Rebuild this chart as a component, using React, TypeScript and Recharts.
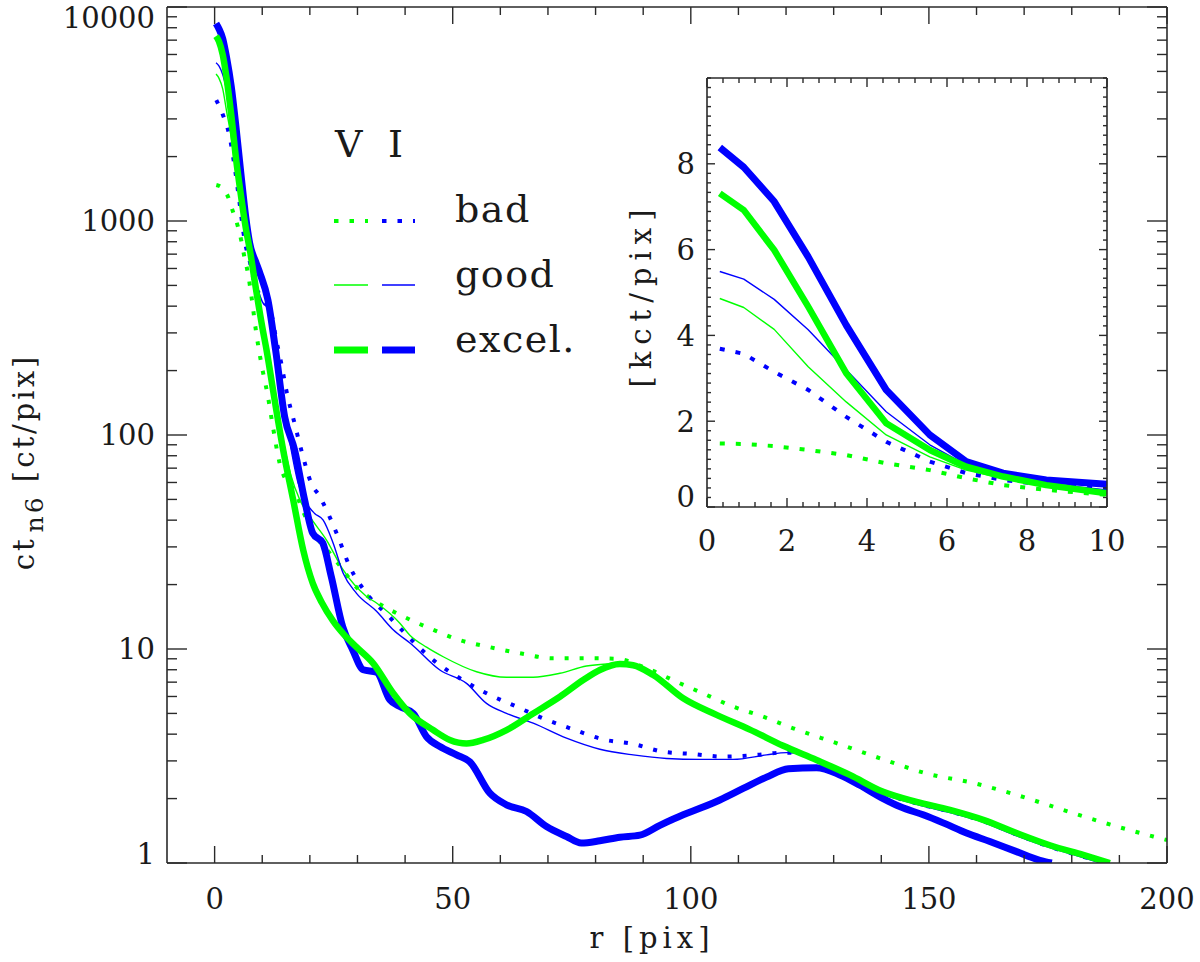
import React from 'react';
import { LineChart, Line, XAxis, YAxis } from 'recharts';

const FONT = "'DejaVu Serif', serif";
const INK = '#1a1a1a';
const AXIS = '#2a2a2a';
const GREEN = '#00ff00';
const BLUE = '#0000ff';

// ---------------- main chart (log scale) ----------------
const V_BAD_R = [0.35, 1.7, 2.8, 3.85, 4.9, 5.6, 6.3, 7.0, 7.7, 8.75, 9.8, 11.2, 12.25, 13.65, 15.4, 16.8, 17.9, 20, 24.2, 27, 29, 34, 39.6, 45.9, 51.5, 57.8, 64.1, 71.1, 78.1, 84.4, 90.7, 97, 103.3, 108.9, 115.2, 121.5, 130.6, 140.4, 149.5, 159.5, 168.4, 178.2, 187.3, 197.1, 200];
const V_BAD = [1473, 1420, 1300, 1105, 940, 810, 670, 570, 450, 299, 216, 151, 109, 74, 59.5, 55, 48, 37.3, 28, 23.4, 20.3, 16.6, 14.2, 12.3, 11, 10.2, 9.55, 9.05, 9.05, 9.0, 8.13, 7.03, 6.1, 5.38, 4.83, 4.26, 3.63, 3.05, 2.62, 2.36, 2.08, 1.77, 1.53, 1.33, 1.28];

const I_BAD_R = [0.35, 1.75, 3.15, 4.2, 5.25, 6.3, 7.5, 8.5, 10, 11.9, 12.95, 14, 15.05, 16.8, 18.2, 20.3, 22.1, 23.5, 25.9, 28.4, 31.9, 36.6, 41.4, 45.9, 51.5, 57.1, 63.4, 69, 75.3, 81.6, 87.9, 94.2, 100.5, 106.8, 113.8, 119.4, 122.5, 126.4, 133.4, 140.4, 147.4, 154.4, 161.4, 168.4, 175.4, 182.4, 187];
const I_BAD = [3675, 3127, 2477, 1795, 1210, 815, 630, 500, 440, 370, 278, 216, 162, 113, 85, 59.5, 51.5, 44.6, 33.5, 24.2, 18.2, 14.2, 11, 8.88, 7.3, 6.21, 5.38, 4.74, 4.21, 3.78, 3.6, 3.31, 3.23, 3.14, 3.2, 3.28, 3.25, 3.0, 2.55, 2.12, 1.9, 1.74, 1.57, 1.36, 1.19, 1.07, 1.0];

const V_GOOD_R = [0.3, 0.9, 1.7, 2.5, 3.5, 4.5, 5.5, 6.5, 7.5, 8.5, 10, 12, 14, 16, 17.9, 20, 23.5, 27, 31.9, 34, 38.9, 41, 44.5, 48, 55, 61.3, 66.9, 72.5, 78.1, 82.3, 85.1, 87.9, 92.1, 98.4, 105.4, 112.4, 119.4, 126.4, 133.4, 140.4, 147.4, 154.4, 161.4, 168.4, 175.4, 182.4, 188];
const V_GOOD = [4860, 4650, 4140, 3270, 2450, 1680, 1170, 860, 670, 470, 320, 190, 105, 65, 49.7, 41.5, 32.3, 23.4, 17.6, 16.4, 13.2, 11.6, 10.2, 9.2, 7.83, 7.38, 7.38, 7.7, 8.33, 8.51, 8.55, 8.4, 7.56, 5.88, 4.92, 4.2, 3.53, 3.03, 2.58, 2.15, 1.93, 1.77, 1.59, 1.38, 1.21, 1.09, 1.0];

const I_GOOD_R = [0.3, 0.9, 1.7, 2.5, 3.5, 4.5, 5.5, 6.5, 7.5, 8.5, 10, 11.5, 13, 15.7, 17.5, 19.3, 21, 22.8, 24.9, 27, 29.8, 34, 37.5, 41.4, 47.3, 52.9, 57.1, 61.3, 66.9, 73.9, 80.9, 87.9, 94.9, 101.9, 108.9, 115.9, 120.1, 123.6, 128.8, 133.4, 140.4, 147.4, 154.4, 161.4, 168.4, 175.4, 182.4, 186];
const I_GOOD = [5490, 5310, 4840, 4130, 3200, 2220, 1450, 980, 750, 550, 420, 384, 230, 95, 60, 48, 43, 40, 31.2, 22.6, 18.2, 15, 12.3, 10.5, 7.98, 6.91, 5.57, 5.0, 4.5, 3.83, 3.4, 3.2, 3.08, 3.05, 3.05, 3.2, 3.28, 3.2, 2.85, 2.52, 2.1, 1.88, 1.72, 1.55, 1.34, 1.18, 1.06, 1.0];

const V_EXC_R = [0.3, 0.9, 1.7, 2.5, 3.5, 4.5, 5.5, 6.5, 7.5, 8.5, 10, 10.9, 12.6, 14.4, 16.5, 18.6, 20.6, 22.5, 24.9, 27, 29.8, 33.3, 37.5, 41, 45.9, 49.4, 52.9, 56.4, 61.3, 66.9, 72.5, 77.4, 80.9, 85.1, 87.9, 92.1, 98.4, 105.4, 112.4, 119.4, 126.4, 133.4, 140.4, 147.4, 154.4, 161.4, 168.4, 175.4, 182.4, 188];
const V_EXC = [7310, 6920, 5990, 4670, 3120, 1950, 1330, 940, 710, 510, 320, 250, 146, 85, 49.7, 29, 20.3, 16.5, 13.5, 11.8, 10.2, 8.57, 6.21, 5.0, 4.18, 3.76, 3.62, 3.76, 4.18, 5.0, 5.98, 7.16, 7.98, 8.51, 8.4, 7.56, 5.88, 4.92, 4.2, 3.53, 3.03, 2.58, 2.15, 1.93, 1.77, 1.59, 1.38, 1.21, 1.09, 1.0];

const I_EXC_R = [0.3, 0.9, 1.7, 2.5, 3.5, 4.5, 5.5, 6.5, 7.35, 8.75, 9.5, 11.2, 12.8, 14.7, 16.8, 18.9, 20.6, 22.7, 24.5, 26.9, 29, 31.2, 34, 36.8, 38.9, 41.7, 44.5, 47.3, 50.8, 53.6, 57.8, 61.3, 65.5, 69.7, 73.9, 77, 80.9, 85.1, 89.3, 93.5, 98.4, 101.9, 106.1, 111, 115.9, 120.5, 126.4, 131.3, 135.5, 140.4, 144, 148.8, 153, 157.9, 162.8, 168.4, 173.3, 175.8];
const I_EXC = [8380, 7920, 7120, 5830, 4240, 2730, 1680, 1060, 790, 634, 571, 427, 250, 122, 85, 49.7, 34.8, 31.3, 21.8, 12.7, 9.9, 8.0, 7.8, 5.78, 5.38, 5.0, 3.89, 3.5, 3.2, 2.97, 2.12, 1.87, 1.74, 1.48, 1.33, 1.24, 1.27, 1.32, 1.35, 1.5, 1.68, 1.8, 1.97, 2.23, 2.52, 2.76, 2.79, 2.58, 2.31, 2.0, 1.83, 1.68, 1.54, 1.38, 1.26, 1.13, 1.03, 1.0];

const MAIN_X_DOMAIN = [-10, 200];
const MAIN_X_TICKS = [0, 10, 20, 30, 40, 50, 60, 70, 80, 90, 100, 110, 120, 130, 140, 150, 160, 170, 180, 190, 200];
const MAIN_X_LABELS = [0, 50, 100, 150, 200];
const MAIN_Y_DOMAIN = [1, 10000];
const MAIN_Y_TICKS = [1, 2, 3, 4, 5, 6, 7, 8, 9, 10, 20, 30, 40, 50, 60, 70, 80, 90, 100, 200, 300, 400, 500, 600, 700, 800, 900, 1000, 2000, 3000, 4000, 5000, 6000, 7000, 8000, 9000, 10000];
const MAIN_Y_LABELS = [1, 10, 100, 1000, 10000];

// ---------------- inset (linear, kct) ----------------
const IN_R = [0.32, 0.92, 1.68, 2.53, 3.48, 4.48, 5.57, 6.48, 7.4, 8.48, 10];
const IN_V_BAD = [1.48, 1.47, 1.42, 1.33, 1.21, 1.02, 0.86, 0.67, 0.51, 0.40, 0.28];
const IN_I_BAD = [3.69, 3.57, 3.15, 2.73, 2.10, 1.52, 1.06, 0.79, 0.63, 0.52, 0.42];
const IN_V_GOOD = [4.86, 4.65, 4.14, 3.27, 2.45, 1.68, 1.17, 0.86, 0.67, 0.47, 0.32];
const IN_I_GOOD = [5.49, 5.31, 4.84, 4.13, 3.2, 2.22, 1.45, 0.98, 0.75, 0.55, 0.40];
const IN_V_EXC = [7.31, 6.92, 5.99, 4.67, 3.12, 1.95, 1.33, 0.94, 0.71, 0.51, 0.32];
const IN_I_EXC = [8.38, 7.92, 7.12, 5.83, 4.24, 2.73, 1.68, 1.06, 0.79, 0.63, 0.53];

const IN_X_DOMAIN = [0, 10];
const IN_Y_DOMAIN = [0, 10];
const IN_X_LABELS = [0, 2, 4, 6, 8, 10];
const IN_Y_LABELS = [0, 2, 4, 6, 8];
const IN_X_MINOR_STEP = 0.4;
const IN_Y_MINOR_PER_2 = 9;

const IN_X_TICKS = Array.from({ length: 26 }, (_, i) => Math.round(i * IN_X_MINOR_STEP * 1000) / 1000);
const IN_Y_TICKS = Array.from({ length: 46 }, (_, i) => (i * 2) / IN_Y_MINOR_PER_2);

const zip = (rs: number[], vs: number[]) => rs.map((r, i) => ({ r, v: vs[i] }));

const near = (list: number[], v: number) => list.some((m) => Math.abs(m - v) < 1e-6);

// ---------- tick factories (inward IDL-style ticks) ----------
type TickCfg = { labels: number[]; major: number; minor: number; fs: number; labelOff: number; shiftMin?: number; shiftMax?: number; min?: number; max?: number };

const makeBottom = (c: TickCfg) => (p: any) => {
  const v = p.payload.value as number;
  const m = near(c.labels, v);
  return (
    <g>
      <line x1={p.x} x2={p.x} y1={p.y} y2={p.y - (m ? c.major : c.minor)} stroke={AXIS} strokeWidth={1.4} />
      {m && (
        <text x={p.x} y={p.y + c.labelOff} textAnchor="middle" fontFamily={FONT} fontSize={c.fs} fill={INK}>
          {v}
        </text>
      )}
    </g>
  );
};

const makeTop = (c: TickCfg) => (p: any) => {
  const v = p.payload.value as number;
  const m = near(c.labels, v);
  return <line x1={p.x} x2={p.x} y1={p.y} y2={p.y + (m ? c.major : c.minor)} stroke={AXIS} strokeWidth={1.4} />;
};

const makeLeft = (c: TickCfg) => (p: any) => {
  const v = p.payload.value as number;
  const m = near(c.labels, v);
  let dy = c.fs * 0.36;
  if (c.min !== undefined && Math.abs(v - c.min) < 1e-6) dy += c.shiftMin || 0;
  if (c.max !== undefined && Math.abs(v - c.max) < 1e-6) dy += c.shiftMax || 0;
  return (
    <g>
      <line x1={p.x} x2={p.x + (m ? c.major : c.minor)} y1={p.y} y2={p.y} stroke={AXIS} strokeWidth={1.4} />
      {m && (
        <text x={p.x - c.labelOff} y={p.y + dy} textAnchor="end" fontFamily={FONT} fontSize={c.fs} fill={INK}>
          {v}
        </text>
      )}
    </g>
  );
};

const makeRight = (c: TickCfg) => (p: any) => {
  const v = p.payload.value as number;
  const m = near(c.labels, v);
  return <line x1={p.x} x2={p.x - (m ? c.major : c.minor)} y1={p.y} y2={p.y} stroke={AXIS} strokeWidth={1.4} />;
};

const mainX: TickCfg = { labels: MAIN_X_LABELS, major: 17, minor: 8, fs: 29, labelOff: 46 };
const mainY: TickCfg = { labels: MAIN_Y_LABELS, major: 20, minor: 10, fs: 29, labelOff: 12, min: 1, max: 10000, shiftMin: -9, shiftMax: 11 };
const inX: TickCfg = { labels: IN_X_LABELS, major: 9, minor: 5, fs: 29, labelOff: 44 };
const inY: TickCfg = { labels: IN_Y_LABELS, major: 8, minor: 4, fs: 29, labelOff: 12, min: 0, shiftMin: -10 };

const MainBottomTick = makeBottom(mainX);
const MainTopTick = makeTop(mainX);
const MainLeftTick = makeLeft(mainY);
const MainRightTick = makeRight(mainY);
const InBottomTick = makeBottom(inX);
const InTopTick = makeTop(inX);
const InLeftTick = makeLeft(inY);
const InRightTick = makeRight(inY);

const axisLine = { stroke: AXIS, strokeWidth: 1.6 };

type S = { key: string; r: number[]; v: number[]; color: string; w: number; dash?: string };

const MAIN_SERIES: S[] = [
  { key: 'vbad', r: V_BAD_R, v: V_BAD, color: GREEN, w: 4, dash: '4 11' },
  { key: 'ibad', r: I_BAD_R, v: I_BAD, color: BLUE, w: 4, dash: '4 11' },
  { key: 'vgood', r: V_GOOD_R, v: V_GOOD, color: GREEN, w: 1.4 },
  { key: 'igood', r: I_GOOD_R, v: I_GOOD, color: BLUE, w: 1.4 },
  { key: 'iexc', r: I_EXC_R, v: I_EXC, color: BLUE, w: 7 },
  { key: 'vexc', r: V_EXC_R, v: V_EXC, color: GREEN, w: 6.5 },
];

const IN_SERIES: S[] = [
  { key: 'vbad', r: IN_R, v: IN_V_BAD, color: GREEN, w: 4, dash: '5 11' },
  { key: 'ibad', r: IN_R, v: IN_I_BAD, color: BLUE, w: 4, dash: '5 11' },
  { key: 'vgood', r: IN_R, v: IN_V_GOOD, color: GREEN, w: 1.4 },
  { key: 'igood', r: IN_R, v: IN_I_GOOD, color: BLUE, w: 1.4 },
  { key: 'iexc', r: IN_R, v: IN_I_EXC, color: BLUE, w: 7 },
  { key: 'vexc', r: IN_R, v: IN_V_EXC, color: GREEN, w: 6.5 },
];

export default function App() {
  return (
    <div style={{ position: 'absolute', left: 0, top: 0, width: 1200, height: 962, background: '#fff', overflow: 'hidden' }}>
      <div style={{ position: 'absolute', left: 0, top: 0 }}>
        <LineChart width={1200} height={962} margin={{ top: 6, right: 23, bottom: 59, left: 107 }}>
          <XAxis xAxisId="b" dataKey="r" type="number" domain={MAIN_X_DOMAIN} allowDataOverflow ticks={MAIN_X_TICKS} interval={0} tickSize={0} tickMargin={0} tickLine={false} height={40} axisLine={axisLine} tick={MainBottomTick} />
          <XAxis xAxisId="t" orientation="top" dataKey="r" type="number" domain={MAIN_X_DOMAIN} allowDataOverflow ticks={MAIN_X_TICKS} interval={0} tickSize={0} tickMargin={0} tickLine={false} height={1} axisLine={axisLine} tick={MainTopTick} />
          <YAxis yAxisId="l" dataKey="v" type="number" scale="log" domain={MAIN_Y_DOMAIN} allowDataOverflow ticks={MAIN_Y_TICKS} interval={0} tickSize={0} tickMargin={0} tickLine={false} width={60} axisLine={axisLine} tick={MainLeftTick} />
          <YAxis yAxisId="r" orientation="right" dataKey="v" type="number" scale="log" domain={MAIN_Y_DOMAIN} allowDataOverflow ticks={MAIN_Y_TICKS} interval={0} tickSize={0} tickMargin={0} tickLine={false} width={10} axisLine={axisLine} tick={MainRightTick} />
          {MAIN_SERIES.map((s) => (
            <Line key={s.key} xAxisId="b" yAxisId="l" data={zip(s.r, s.v)} dataKey="v" type="monotone" stroke={s.color} strokeWidth={s.w} strokeDasharray={s.dash} strokeLinecap="butt" strokeLinejoin="round" dot={false} activeDot={false} isAnimationActive={false} />
          ))}
        </LineChart>
      </div>
      <div style={{ position: 'absolute', left: 600, top: 60 }}>
        <LineChart width={540} height={520} margin={{ top: 17, right: 23, bottom: 33, left: 47 }}>
          <XAxis xAxisId="b" dataKey="r" type="number" domain={IN_X_DOMAIN} allowDataOverflow ticks={IN_X_TICKS} interval={0} tickSize={0} tickMargin={0} tickLine={false} height={40} axisLine={axisLine} tick={InBottomTick} />
          <XAxis xAxisId="t" orientation="top" dataKey="r" type="number" domain={IN_X_DOMAIN} allowDataOverflow ticks={IN_X_TICKS} interval={0} tickSize={0} tickMargin={0} tickLine={false} height={1} axisLine={axisLine} tick={InTopTick} />
          <YAxis yAxisId="l" dataKey="v" type="number" domain={IN_Y_DOMAIN} allowDataOverflow ticks={IN_Y_TICKS} interval={0} tickSize={0} tickMargin={0} tickLine={false} width={60} axisLine={axisLine} tick={InLeftTick} />
          <YAxis yAxisId="r" orientation="right" dataKey="v" type="number" domain={IN_Y_DOMAIN} allowDataOverflow ticks={IN_Y_TICKS} interval={0} tickSize={0} tickMargin={0} tickLine={false} width={10} axisLine={axisLine} tick={InRightTick} />
          {IN_SERIES.map((s) => (
            <Line key={s.key} xAxisId="b" yAxisId="l" data={zip(s.r, s.v)} dataKey="v" type="linear" stroke={s.color} strokeWidth={s.w} strokeDasharray={s.dash} strokeLinecap="butt" strokeLinejoin="round" dot={false} activeDot={false} isAnimationActive={false} />
          ))}
        </LineChart>
      </div>
      <svg width={1200} height={962} style={{ position: 'absolute', left: 0, top: 0, pointerEvents: 'none' }}>
        <g fontFamily={FONT} fill={INK}>
          {/* axis titles */}
          <text x={652} y={948} textAnchor="middle" fontSize={29} letterSpacing={5}>
            r  [pix]
          </text>
          <text transform="translate(34,462) rotate(-90)" textAnchor="middle" fontSize={29} letterSpacing={3}>
            ct
            <tspan fontSize={25} dy={9} dx={4}>n6</tspan>
            <tspan dy={-9}>  [ct/pix]</tspan>
          </text>
          <text transform="translate(651,295) rotate(-90)" textAnchor="middle" fontSize={29} letterSpacing={7}>
            [kct/pix]
          </text>
          {/* legend */}
          <text x={335} y={157} fontSize={38}>V</text>
          <text x={388} y={157} fontSize={38}>I</text>
          <text x={455} y={222} fontSize={38} letterSpacing={1.5}>bad</text>
          <text x={455} y={287} fontSize={38} letterSpacing={1.5}>good</text>
          <text x={455} y={352} fontSize={38} letterSpacing={1.5}>excel.</text>
        </g>
        <line x1={334} x2={368} y1={221} y2={221} stroke={GREEN} strokeWidth={4} strokeDasharray="4.5 11" />
        <line x1={382} x2={415} y1={221} y2={221} stroke={BLUE} strokeWidth={4} strokeDasharray="4.5 11" />
        <line x1={334} x2={368} y1={285} y2={285} stroke={GREEN} strokeWidth={1.4} />
        <line x1={382} x2={415} y1={285} y2={285} stroke={BLUE} strokeWidth={1.4} />
        <line x1={334} x2={368} y1={350} y2={350} stroke={GREEN} strokeWidth={7} />
        <line x1={382} x2={415} y1={350} y2={350} stroke={BLUE} strokeWidth={7} />
      </svg>
    </div>
  );
}
